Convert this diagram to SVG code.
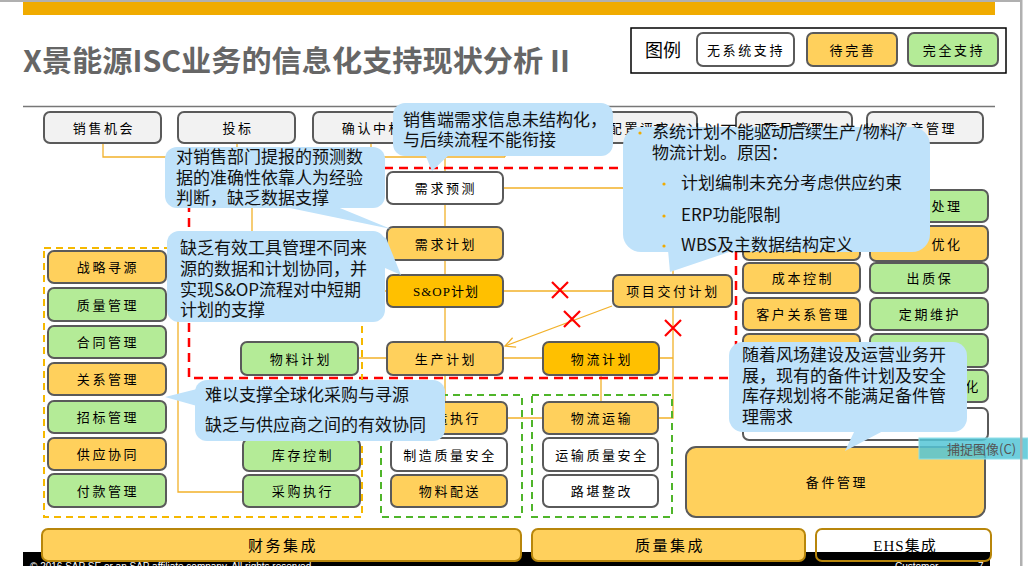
<svg xmlns="http://www.w3.org/2000/svg" width="1028" height="566" viewBox="0 0 1028 566">
<defs>
<style>
.bx{stroke:#5a5a5a;stroke-width:2}
.w{fill:#ffffff}.o{fill:#ffd05c}.a{fill:#ffc000}.g{fill:#b4eb97}.gr{fill:#f2f2f2}
.bt{font-family:"Liberation Serif","Noto Sans CJK SC",serif;font-size:13px;letter-spacing:2.6px;fill:#000;text-anchor:middle}
.ct{font-family:"Noto Sans CJK SC","Liberation Sans",sans-serif;font-size:17px;fill:#111}
.cl{fill:#bfe2fa}
.cn{fill:none;stroke:#f2b12a;stroke-width:1.3}
.rx{stroke:#ff0000;stroke-width:2.2;fill:none}
.bar{stroke:#b8860b;stroke-width:2}
.bb{font-family:"Liberation Serif","Noto Sans CJK SC",serif;font-size:15px;letter-spacing:2.5px;fill:#000;text-anchor:middle}
.ft{font-family:"Liberation Sans",sans-serif;font-size:10px;fill:#fff}
.bul{fill:#f0ab00}
</style>
<marker id="ah" viewBox="0 0 12 12" refX="11" refY="6" markerWidth="12" markerHeight="12" markerUnits="userSpaceOnUse" orient="auto">
<path d="M1,1 L11,6 L1,11" fill="none" stroke="#f2b12a" stroke-width="1.3"/>
</marker>
</defs>
<rect x="0" y="0" width="1028" height="566" fill="#ffffff"/>
<rect x="0" y="0" width="1022" height="2" fill="#b0b0b0"/>
<rect x="23" y="2" width="972" height="13" fill="#f0ab00"/>
<text x="23" y="72" font-family="'Noto Sans CJK SC','Liberation Sans',sans-serif" font-size="29" font-weight="bold" fill="#666" textLength="547" lengthAdjust="spacingAndGlyphs">X景能源ISC业务的信息化支持现状分析 II</text>
<line x1="23" y1="106.5" x2="995" y2="106.5" stroke="#777" stroke-width="1.5"/>

<g id="legend">
<rect x="631" y="28" width="375" height="45" fill="#fff" stroke="#000" stroke-width="1.5"/>
<text x="645" y="57" font-family="'Noto Sans CJK SC',sans-serif" font-size="18" fill="#000">图例</text>
<rect class="bx w" x="697" y="33" width="97" height="33" rx="6"/>
<text class="bt" x="746" y="54.5">无系统支持</text>
<rect class="bx o" x="807" y="33" width="90" height="33" rx="6"/>
<text class="bt" x="853" y="54.5">待完善</text>
<rect class="bx g" x="908" y="33" width="90" height="33" rx="6"/>
<text class="bt" x="954" y="54.5">完全支持</text>
</g>

<rect x="23" y="552" width="967" height="14" fill="#000"/>
<text class="ft" x="30" y="570">© 2016 SAP SE or an SAP affiliate company. All rights reserved.</text>
<text class="ft" x="895" y="570">Customer</text>
<text class="ft" x="978" y="570">7</text>

<g id="connectors">
<path class="cn" d="M103,143 V157 H505 M237,143 V157 M371,143 V157 M505,143 V157 M445,157 V172 M252,157 V232"/>
<path class="cn" d="M503,188 H673 V275"/>
<path class="cn" d="M445,204 V227 M445,260 V275 M445,307 V342"/>
<path class="cn" d="M503,291 H613 M360,291 H387"/>
<path class="cn" d="M612,306 L505,346" marker-end="url(#ah)"/>
<path class="cn" d="M358,358 H388 M503,358 H543 M659,358 H673"/>
<path class="cn" d="M673,307 V418 H659"/>
<path class="cn" d="M300,375 V439 M445,375 V402 M601,375 V402 M507,418 H543"/>
<path class="cn" d="M166,268 H178 V492 H243"/>
</g>

<g id="groups">
<rect x="189" y="168" width="547" height="210" fill="none" stroke="#ff0000" stroke-width="2.5" stroke-dasharray="9,6"/>
<rect x="44" y="248" width="318" height="269" fill="none" stroke="#f5b800" stroke-width="2" stroke-dasharray="7,5"/>
<rect x="381" y="395" width="141" height="122" fill="none" stroke="#4fb52a" stroke-width="2" stroke-dasharray="7,5"/>
<rect x="532" y="395" width="140" height="122" fill="none" stroke="#4fb52a" stroke-width="2" stroke-dasharray="7,5"/>
</g>

<g id="top-row">
<g id="n-xsjh"><rect class="bx gr" x="44" y="112" width="117" height="31" rx="6"/><text class="bt" x="104" y="132.5">销售机会</text></g>
<g id="n-tb"><rect class="bx gr" x="178" y="112" width="117" height="31" rx="6"/><text class="bt" x="238" y="132.5">投标</text></g>
<g id="n-qrzb"><rect class="bx gr" x="313" y="112" width="117" height="31" rx="6"/><text class="bt" x="373" y="132.5">确认中标</text></g>
<g id="n-top4"><rect class="bx gr" x="447" y="112" width="117" height="31" rx="6"/></g>
<g id="n-pzps"><rect class="bx gr" x="580" y="112" width="117" height="31" rx="6"/><text class="bt" x="640" y="132.5">配置评审</text></g>
<g id="n-xmgl"><rect class="bx gr" x="736" y="112" width="116" height="31" rx="6"/><text class="bt" x="795" y="132.5">项目管理</text></g>
<g id="n-zcgl"><rect class="bx gr" x="867" y="112" width="116" height="31" rx="6"/><text class="bt" x="926" y="132.5">资产管理</text></g>
</g>

<g id="planning">
<g id="n-xqyc"><rect class="bx w" x="387" y="172" width="116" height="32" rx="6"/><text class="bt" x="446" y="193">需求预测</text></g>
<g id="n-xqjh"><rect class="bx o" x="387" y="227" width="116" height="33" rx="6"/><text class="bt" x="446" y="248.5">需求计划</text></g>
<g id="n-sop"><rect class="bx a" x="387" y="275" width="116" height="32" rx="6"/><text class="bt" x="446" y="296" style="letter-spacing:1px">S&amp;OP计划</text></g>
<g id="n-xmjf"><rect class="bx o" x="613" y="275" width="119" height="32" rx="6"/><text class="bt" x="673" y="296">项目交付计划</text></g>
<g id="n-wljh"><rect class="bx g" x="241" y="342" width="117" height="33" rx="6"/><text class="bt" x="301" y="363.5">物料计划</text></g>
<g id="n-scjh"><rect class="bx o" x="387" y="342" width="116" height="33" rx="6"/><text class="bt" x="446" y="363.5">生产计划</text></g>
<g id="n-wlljh"><rect class="bx a" x="543" y="342" width="116" height="33" rx="6"/><text class="bt" x="602" y="363.5">物流计划</text></g>
</g>

<g id="sourcing">
<g id="n-zlxy"><rect class="bx o" x="48" y="251" width="118" height="32" rx="6"/><text class="bt" x="108" y="272">战略寻源</text></g>
<g id="n-zlgl"><rect class="bx g" x="48" y="288" width="118" height="33" rx="6"/><text class="bt" x="108" y="309.5">质量管理</text></g>
<g id="n-htgl"><rect class="bx g" x="48" y="326" width="118" height="32" rx="6"/><text class="bt" x="108" y="347">合同管理</text></g>
<g id="n-gxgl"><rect class="bx o" x="48" y="363" width="118" height="32" rx="6"/><text class="bt" x="108" y="384">关系管理</text></g>
<g id="n-zbgl"><rect class="bx g" x="48" y="401" width="118" height="32" rx="6"/><text class="bt" x="108" y="422">招标管理</text></g>
<g id="n-gyxt"><rect class="bx o" x="48" y="438" width="118" height="32" rx="6"/><text class="bt" x="108" y="459">供应协同</text></g>
<g id="n-fkgl"><rect class="bx g" x="48" y="474" width="118" height="33" rx="6"/><text class="bt" x="108" y="495.5">付款管理</text></g>
<g id="n-kckz"><rect class="bx g" x="243" y="439" width="117" height="32" rx="6"/><text class="bt" x="303" y="460">库存控制</text></g>
<g id="n-cgzx"><rect class="bx g" x="243" y="475" width="117" height="32" rx="6"/><text class="bt" x="303" y="496">采购执行</text></g>
</g>

<g id="execution">
<g id="n-zzzx"><rect class="bx o" x="391" y="402" width="116" height="32" rx="6"/><text class="bt" x="450" y="423">制造执行</text></g>
<g id="n-zzzl"><rect class="bx w" x="391" y="438" width="116" height="33" rx="6"/><text class="bt" x="450" y="459.5">制造质量安全</text></g>
<g id="n-wlps"><rect class="bx o" x="391" y="475" width="116" height="32" rx="6"/><text class="bt" x="450" y="496">物料配送</text></g>
<g id="n-wlys"><rect class="bx o" x="543" y="402" width="115" height="32" rx="6"/><text class="bt" x="602" y="423">物流运输</text></g>
<g id="n-yszl"><rect class="bx w" x="543" y="438" width="115" height="33" rx="6"/><text class="bt" x="602" y="459.5">运输质量安全</text></g>
<g id="n-lkzg"><rect class="bx w" x="543" y="475" width="115" height="32" rx="6"/><text class="bt" x="602" y="496">路堪整改</text></g>
</g>

<g id="service">
<g id="n-a1"><rect class="bx o" x="743" y="190" width="117" height="32" rx="6"/></g>
<g id="n-a2"><rect class="bx o" x="743" y="226" width="117" height="34" rx="6"/></g>
<g id="n-cbkz"><rect class="bx o" x="743" y="263" width="117" height="30" rx="6"/><text class="bt" x="803" y="283">成本控制</text></g>
<g id="n-khgx"><rect class="bx o" x="743" y="298" width="117" height="32" rx="6"/><text class="bt" x="803" y="319">客户关系管理</text></g>
<g id="n-a5"><rect class="bx o" x="743" y="334" width="117" height="33" rx="6"/></g>
<g id="n-gzcl"><rect class="bx g" x="870" y="190" width="118" height="32" rx="6"/><text class="bt" x="947" y="211">处理</text></g>
<g id="n-jhyh"><rect class="bx o" x="870" y="226" width="118" height="35" rx="6"/><text class="bt" x="947" y="248.5">优化</text></g>
<g id="n-czb"><rect class="bx g" x="870" y="263" width="118" height="30" rx="6"/><text class="bt" x="930" y="283">出质保</text></g>
<g id="n-dqwh"><rect class="bx g" x="870" y="298" width="118" height="32" rx="6"/><text class="bt" x="930" y="319">定期维护</text></g>
<g id="n-b5"><rect class="bx g" x="870" y="334" width="118" height="33" rx="6"/></g>
<g id="n-jgyh"><rect class="bx g" x="870" y="370" width="118" height="32" rx="6"/><text class="bt" x="973" y="391">化</text></g>
<g id="n-wide"><rect class="bx w" x="743" y="408" width="245" height="32" rx="6"/></g>
<g id="n-bjgl"><rect class="bx o" x="686" y="447" width="299" height="70" rx="10"/><text class="bt" x="837" y="487">备件管理</text></g>
</g>

<g id="marks">
<path class="rx" d="M552,282 L568,298 M568,282 L552,298"/>
<path class="rx" d="M564,311 L580,327 M580,311 L564,327"/>
<path class="rx" d="M665,320 L681,336 M681,320 L665,336"/>
</g>

<g id="callouts">
<g id="c1"><rect class="cl" x="165" y="147" width="220" height="61" rx="12"/><polygon class="cl" points="280,206 335,206 391,229"/>
<text class="ct" x="176" y="163">对销售部门提报的预测数</text><text class="ct" x="176" y="184">据的准确性依靠人为经验</text><text class="ct" x="176" y="204">判断，缺乏数据支撑</text></g>
<g id="c2"><rect class="cl" x="167" y="231" width="218" height="91" rx="12"/><polygon class="cl" points="370,232 386,238 401,275 385,268"/>
<text class="ct" x="180" y="254">缺乏有效工具管理不同来</text><text class="ct" x="180" y="275">源的数据和计划协同，并</text><text class="ct" x="180" y="296">实现S&amp;OP流程对中短期</text><text class="ct" x="180" y="316">计划的支撑</text></g>
<g id="c3"><rect class="cl" x="393" y="103" width="220" height="53" rx="12"/><polygon class="cl" points="425,154 450,154 432,171"/>
<text class="ct" x="403" y="126">销售端需求信息未结构化，</text><text class="ct" x="403" y="146">与后续流程不能衔接</text></g>
<g id="c4"><rect class="cl" x="623" y="127" width="307" height="125" rx="18"/><polygon class="cl" points="668,250 735,250 670,272"/>
<circle class="bul" cx="640" cy="133" r="1.6"/>
<text class="ct" x="652" y="138">系统计划不能驱动后续生产/物料/</text><text class="ct" x="652" y="159">物流计划。原因：</text>
<circle class="bul" cx="664" cy="184" r="1.6"/><text class="ct" x="681" y="189">计划编制未充分考虑供应约束</text>
<circle class="bul" cx="664" cy="216" r="1.6"/><text class="ct" x="681" y="221">ERP功能限制</text>
<circle class="bul" cx="664" cy="246" r="1.6"/><text class="ct" x="681" y="251">WBS及主数据结构定义</text></g>
<g id="c5"><rect class="cl" x="195" y="380" width="250" height="61" rx="12"/><polygon class="cl" points="197,389 197,406 165,397"/>
<text class="ct" x="205" y="401">难以支撑全球化采购与寻源</text><text class="ct" x="205" y="431">缺乏与供应商之间的有效协同</text></g>
<g id="c6"><rect class="cl" x="729" y="342" width="238" height="90" rx="14"/><polygon class="cl" points="855,430 885,430 845,451"/>
<text class="ct" x="742" y="361">随着风场建设及运营业务开</text><text class="ct" x="742" y="382">展，现有的备件计划及安全</text><text class="ct" x="742" y="402">库存规划将不能满足备件管</text><text class="ct" x="742" y="423">理需求</text></g>
</g>

<g id="bottom">
<g id="n-cwjc"><rect class="bar o" x="42" y="529" width="479" height="32" rx="6"/><text class="bb" x="283" y="551">财务集成</text></g>
<g id="n-zljc"><rect class="bar o" x="532" y="529" width="273" height="32" rx="6"/><text class="bb" x="670" y="551">质量集成</text></g>
<g id="n-ehs"><rect class="bar" x="816" y="529" width="175" height="32" rx="6" fill="none"/><text class="bb" x="905" y="551" style="letter-spacing:1px">EHS集成</text></g>
</g>

<rect x="919" y="438" width="109" height="21" fill="#55c6d6" fill-opacity="0.85" stroke="#8fe0ea" stroke-width="1"/>
<text x="947" y="454" font-family="'Noto Sans CJK SC',sans-serif" font-size="13" fill="#555">捕捉图像(C)</text>
<rect x="1020" y="0" width="2.5" height="566" fill="#b0b0b0"/>
</svg>
